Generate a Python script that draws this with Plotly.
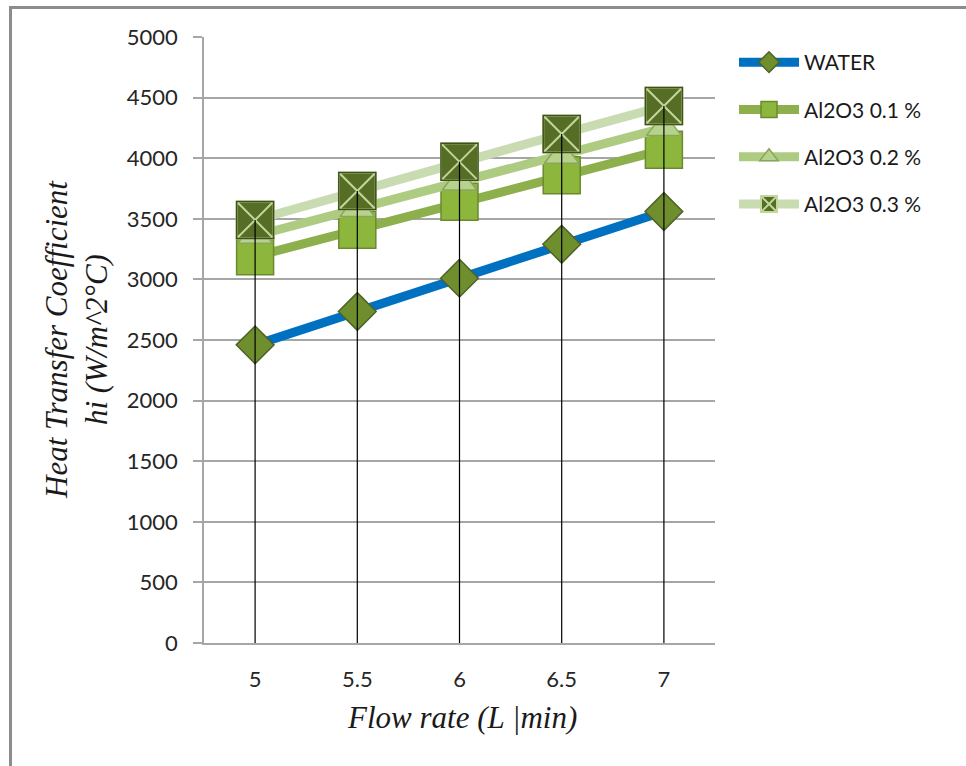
import plotly.graph_objects as go

# ---- data ----
flow_rate = ["5", "5.5", "6", "6.5", "7"]
water = [2460, 2735, 3010, 3290, 3560]
al2o3_01 = [3190, 3410, 3640, 3860, 4070]
al2o3_02 = [3360, 3580, 3800, 4020, 4250]
al2o3_03 = [3490, 3730, 3970, 4200, 4430]
series_names = ["WATER", "Al2O3 0.1 %", "Al2O3 0.2 %", "Al2O3 0.3 %"]
y_ticks = list(range(0, 5001, 500))

W, H = 966, 766
L, R, T, B = 204, 251, 37, 123
pw, ph = W - L - R, H - T - B

def px_x(p):
    return (p - L) / pw

def px_y(p):
    return (H - B - p) / ph

fig = go.Figure()

fig.add_trace(go.Scatter(
    x=flow_rate, y=water, name=series_names[0], mode="lines+markers",
    legendgroup="g0",
    line=dict(color="#0070C0", width=9),
    marker=dict(symbol="diamond", size=29, color="#6F8F2F",
                line=dict(color="#4F6228", width=1.5)),
))
fig.add_trace(go.Scatter(
    x=flow_rate, y=al2o3_01, name=series_names[1], mode="lines+markers",
    legendgroup="g1",
    line=dict(color="#8DB04C", width=9),
    marker=dict(symbol="square", size=37, color="#8DB63C",
                line=dict(color="#6B8A2E", width=1.5)),
))
fig.add_trace(go.Scatter(
    x=flow_rate, y=al2o3_02, name=series_names[2], mode="lines+markers",
    legendgroup="g2",
    line=dict(color="#AECB82", width=9),
    marker=dict(symbol="triangle-up", size=30, color="#B7D28C",
                line=dict(color="#8AA65A", width=1.5)),
))
fig.add_trace(go.Scatter(
    x=flow_rate, y=al2o3_03, name=series_names[3], mode="lines+markers",
    legendgroup="g3",
    line=dict(color="#C9DBB1", width=9),
    marker=dict(symbol="square-x", size=37, color="#566D25",
                line=dict(color="#C3D69B", width=2)),
))
fig.add_trace(go.Scatter(
    x=flow_rate, y=al2o3_03, mode="markers", showlegend=False,
    legendgroup="g3", hoverinfo="skip",
    marker=dict(symbol="square-open", size=37, color="#3F511A",
                line=dict(color="#3F511A", width=1.5)),
))

# drop lines from the top series down to the axis
tops = [max(v) for v in zip(water, al2o3_01, al2o3_02, al2o3_03)]
dx, dy = [], []
for c, t in zip(flow_rate, tops):
    dx += [c, c, None]
    dy += [0, t, None]
fig.add_trace(go.Scatter(x=dx, y=dy, mode="lines", showlegend=False,
                         hoverinfo="skip",
                         line=dict(color="#000000", width=1.2)))

grid = "#A6A6A6"
fig.update_layout(
    width=W, height=H,
    margin=dict(l=L, r=R, t=T, b=B),
    paper_bgcolor="white", plot_bgcolor="white",
    font=dict(family="Lato, 'Open Sans', sans-serif", size=22, color="#262626"),
    showlegend=True,
    legend=dict(
        x=px_x(734), y=px_y(42), xanchor="left", yanchor="top",
        font=dict(size=21, color="#1a1a1a"),
        itemwidth=60, tracegroupgap=17,
        bgcolor="rgba(0,0,0,0)",
    ),
    xaxis=dict(
        type="category", range=[-0.5, 4.5],
        showgrid=False, showline=True, linecolor=grid, linewidth=1.5,
        ticks="", ticklabelstandoff=16,
        tickfont=dict(size=22, color="#262626"),
        zeroline=False,
    ),
    yaxis=dict(
        range=[0, 5000], tickvals=y_ticks,
        showgrid=True, gridcolor=grid, gridwidth=1.5,
        showline=True, linecolor=grid, linewidth=1.5,
        ticks="outside", ticklen=9, tickcolor=grid, tickwidth=1.5,
        ticklabelstandoff=11,
        tickfont=dict(size=22, color="#262626"),
        zeroline=False,
    ),
    annotations=[
        dict(text="<i>Heat Transfer Coefficient<br>hi (W/m^2°C)</i>",
             xref="paper", yref="paper", x=px_x(76), y=px_y(340),
             xanchor="center", yanchor="middle", textangle=-90,
             showarrow=False,
             font=dict(family="'Liberation Serif', 'Times New Roman', serif",
                       size=31, color="#1a1a1a")),
        dict(text="<i>Flow rate (L |min)</i>",
             xref="paper", yref="paper", x=px_x(462), y=px_y(717),
             xanchor="center", yanchor="middle", showarrow=False,
             font=dict(family="'Liberation Serif', 'Times New Roman', serif",
                       size=31, color="#1a1a1a")),
    ],
    shapes=[
        dict(type="line", xref="paper", yref="paper",
             x0=px_x(9), x1=px_x(968), y0=px_y(7.5), y1=px_y(7.5),
             line=dict(color="#8C8C8C", width=3)),
        dict(type="line", xref="paper", yref="paper",
             x0=px_x(10.5), x1=px_x(10.5), y0=px_y(6), y1=px_y(770),
             line=dict(color="#8C8C8C", width=3)),
    ],
)

fig.write_html("out.html")
